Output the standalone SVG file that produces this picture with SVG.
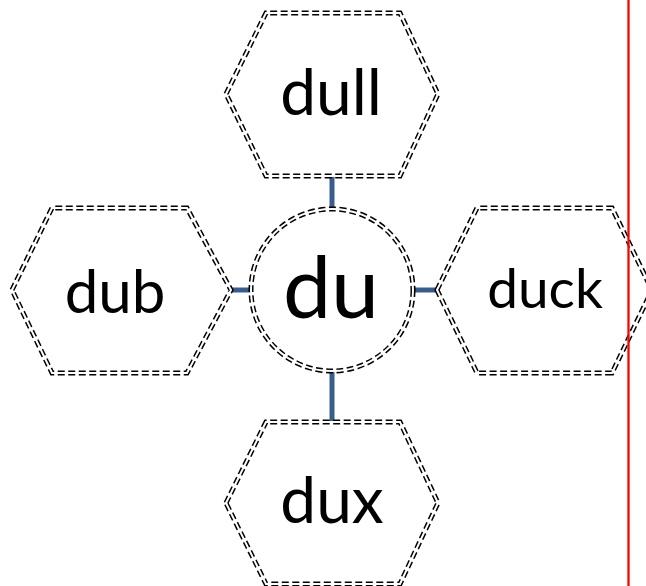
<svg xmlns="http://www.w3.org/2000/svg" width="646" height="586" viewBox="0 0 646 586">
<style>
.o{fill:#fff;stroke:#000;stroke-width:5;stroke-dasharray:7 3.5}
.i{fill:none;stroke:#fff;stroke-width:2}
.t{font-family:Lato,"Liberation Sans",sans-serif;fill:#000;text-anchor:middle}
.c{stroke:#385D8A;stroke-width:5;fill:none}
</style>
<rect width="646" height="586" fill="#fff"/>
<g id="connectors">
<line class="c" x1="332" y1="176" x2="332" y2="209"/>
<line class="c" x1="226" y1="290" x2="252" y2="290"/>
<line class="c" x1="413" y1="290" x2="438" y2="290"/>
<line class="c" x1="332" y1="372" x2="332" y2="422"/>
</g>
<g id="node-dull">
<polygon class="o" points="226,94 266,13 400,13 438,94 400,176 266,176"/>
<polygon class="i" points="226,94 266,13 400,13 438,94 400,176 266,176"/>
<text class="t" x="331" y="115" font-size="64">dull</text>
</g>
<g id="node-dub">
<polygon class="o" points="12,290 52,208 187,208 231,290 187,373 52,373"/>
<polygon class="i" points="12,290 52,208 187,208 231,290 187,373 52,373"/>
<text class="t" x="115" y="313" font-size="60">dub</text>
</g>
<g id="node-duck">
<polygon class="o" points="437,290 477,208 612,208 652,290 612,373 477,373"/>
<polygon class="i" points="437,290 477,208 612,208 652,290 612,373 477,373"/>
<text class="t" x="545" y="308" font-size="55">duck</text>
</g>
<g id="node-dux">
<polygon class="o" points="226,503 266,422 400,422 438,503 400,584 266,584"/>
<polygon class="i" points="226,503 266,422 400,422 438,503 400,584 266,584"/>
<text class="t" x="332" y="523" font-size="64">dux</text>
</g>
<g id="node-du">
<circle class="o" cx="332" cy="290" r="81"/>
<circle class="i" cx="332" cy="290" r="81"/>
<text class="t" x="331" y="318" font-size="86">du</text>
</g>
<line x1="628.5" y1="0" x2="628.5" y2="586" stroke="#f00" stroke-width="2.3"/>
</svg>
